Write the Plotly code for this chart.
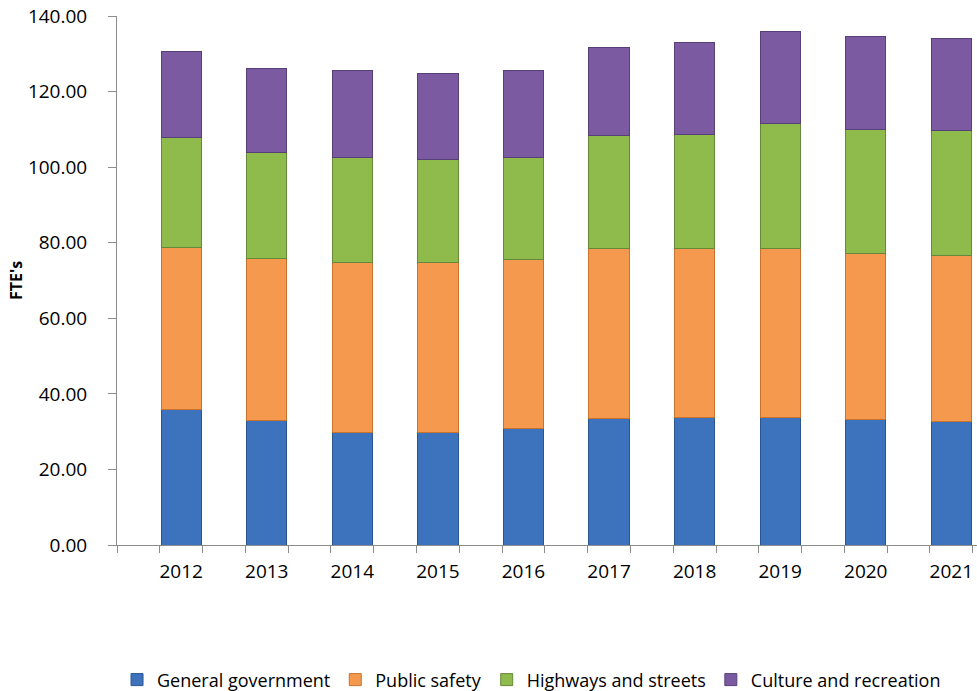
import plotly.graph_objects as go

# FTE counts by function, stacked per fiscal year
years = ["2012", "2013", "2014", "2015", "2016", "2017", "2018", "2019", "2020", "2021"]
general_government = [35.9, 32.9, 29.8, 29.9, 30.8, 33.5, 33.8, 33.8, 33.3, 32.8]
public_safety = [42.9, 42.9, 44.9, 44.8, 44.8, 45.0, 44.8, 44.8, 43.9, 43.9]
highways_streets = [29.1, 28.1, 27.9, 27.2, 27.0, 29.9, 30.1, 33.0, 32.8, 33.0]
culture_recreation = [22.8, 22.2, 23.0, 22.9, 23.0, 23.3, 24.3, 24.4, 24.5, 24.3]

y_ticks = [0, 20, 40, 60, 80, 100, 120, 140]

series = [
    ("General government", general_government, "#3d72bd", "#2a5590"),
    ("Public safety", public_safety, "#f5994f", "#c8722f"),
    ("Highways and streets", highways_streets, "#8fba4c", "#66883a"),
    ("Culture and recreation", culture_recreation, "#7b5aa1", "#574078"),
]

positions = list(range(len(years)))
FONT = "Open Sans, Lato, Arial, sans-serif"
AXIS_GRAY = "#8c8c8c"

fig = go.Figure()
for name, values, fill, edge in series:
    fig.add_trace(go.Bar(
        x=positions,
        y=values,
        name=name,
        width=0.47,
        marker=dict(color=fill, line=dict(color=edge, width=1)),
    ))

fig.update_layout(
    width=977,
    height=691,
    barmode="stack",
    paper_bgcolor="white",
    plot_bgcolor="white",
    margin=dict(l=117, r=0, t=16, b=146, autoexpand=False),
    font=dict(family=FONT, size=19, color="#000000"),
    showlegend=True,
    legend=dict(
        orientation="h",
        x=0.482,
        xanchor="center",
        y=-0.255,
        yanchor="middle",
        font=dict(family=FONT, size=18, color="#000000"),
        itemwidth=30,
        traceorder="normal",
        bgcolor="rgba(0,0,0,0)",
    ),
    xaxis=dict(
        automargin=False,
        range=[-0.75, 9.3],
        tickmode="array",
        tickvals=positions,
        ticktext=years,
        ticks="outside",
        ticklen=9,
        tickcolor="rgba(0,0,0,0)",
        showline=True,
        linecolor=AXIS_GRAY,
        linewidth=1,
        showgrid=False,
        zeroline=False,
        tickfont=dict(family=FONT, size=19, color="#000000"),
        minor=dict(
            tickmode="linear",
            tick0=-0.75,
            dtick=0.5,
            ticks="outside",
            ticklen=7,
            tickcolor=AXIS_GRAY,
            tickwidth=1,
            showgrid=False,
        ),
    ),
    yaxis=dict(
        automargin=False,
        range=[0, 140],
        tickmode="array",
        tickvals=y_ticks,
        tickformat=".2f",
        ticks="outside",
        ticklen=8,
        tickcolor=AXIS_GRAY,
        ticklabelstandoff=17,
        showline=True,
        linecolor=AXIS_GRAY,
        linewidth=1,
        showgrid=False,
        zeroline=False,
        tickfont=dict(family=FONT, size=19, color="#000000"),
    ),
    annotations=[
        dict(
            text="<b>FTE's</b>",
            xref="paper",
            yref="paper",
            x=-0.118,
            y=0.5,
            xanchor="center",
            yanchor="middle",
            textangle=-90,
            showarrow=False,
            font=dict(family=FONT, size=16, color="#000000"),
        )
    ],
)

fig.write_html("out.html")
